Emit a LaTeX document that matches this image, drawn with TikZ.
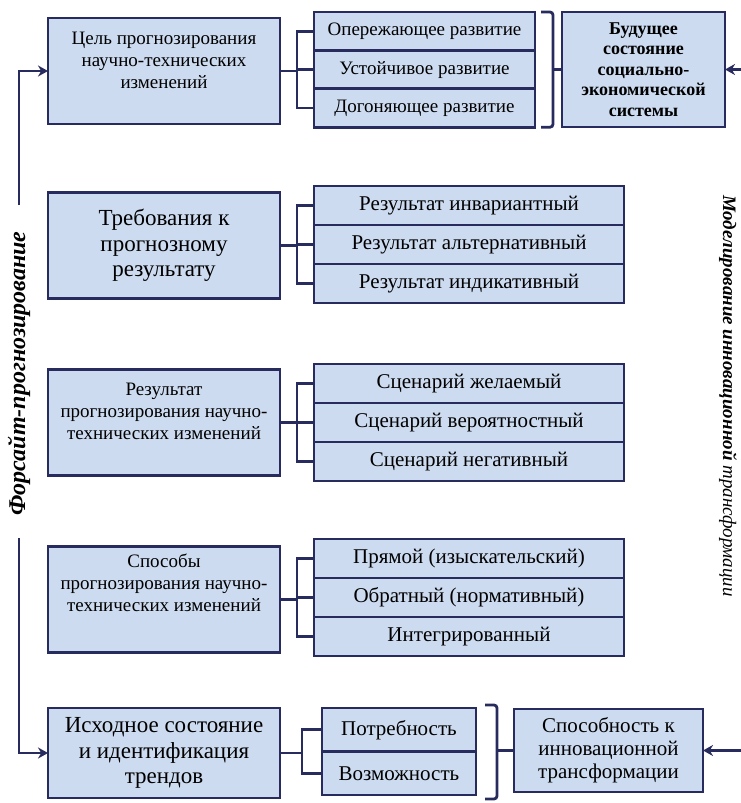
\documentclass[tikz,border=0pt]{standalone}
\usepackage{fontspec}
\setmainfont{Liberation Serif}
\usetikzlibrary{arrows.meta,positioning,calc}
\definecolor{frame}{RGB}{40,43,94}
\definecolor{boxfill}{RGB}{204,219,240}

\begin{document}
\begin{tikzpicture}[x=0.5pt, y=-0.5pt,
  mainbox/.style={draw=frame, line width=1.4pt, fill=boxfill, outer sep=0pt, minimum width=116pt, minimum height=53pt, align=center, font=\fontsize{9.5}{11}\selectfont},
  bigtext/.style={font=\fontsize{11.5}{12.75}\selectfont},
  subbox/.style={draw=frame, line width=1.4pt, fill=boxfill, outer sep=0pt, minimum width=155pt, minimum height=19.5pt, inner sep=1pt, font=\fontsize{10.5}{12}\selectfont},
  goalbox/.style={subbox, minimum width=110.5pt, minimum height=19.2pt, font=\fontsize{9.5}{11}\selectfont},
  needbox/.style={subbox, minimum width=77pt, minimum height=21.75pt},
  conn/.style={draw=frame, line width=1.4pt},
  arr/.style={conn, -{Stealth[length=5pt, width=5.5pt]}},
  sidetext/.style={font=\fontsize{12}{14}\selectfont\bfseries\itshape}
]
\useasboundingbox (0,0) rectangle (740,803);

% goal of forecasting
\node[mainbox] (goal) at (164,71) {Цель прогнозирования\\научно-технических\\изменений\\};
\node[goalbox] (lead) at (424.5,31.2) {Опережающее развитие};
\node[goalbox, below=0pt of lead] (steady) {Устойчивое развитие};
\node[goalbox, below=0pt of steady] (catch) {Догоняющее развитие};
\node[mainbox, minimum width=81.5pt, minimum height=57.5pt, font=\fontsize{9}{10.3}\selectfont\bfseries] (future) at (643.5,69.5) {Будущее\\состояние\\социально-\\экономической\\системы};

\draw[conn] (goal.east) -- ++(8.5pt,0);
\draw[conn] (lead.west) -- ++(-8.5pt,0) |- (catch.west);
\draw[conn] (steady.west) -- ++(-8.5pt,0);
\draw[conn, rounded corners=1.5pt] ([xshift=3pt]lead.north east) -- ++(6pt,0) |- ([xshift=3pt]catch.south east);
\draw[conn] (future.west) -- ++(-4.5pt,0);

% requirements
\node[mainbox, bigtext] (req) at (164,245.5) {Требования к\\прогнозному\\результату};
\node[subbox] (inv) at (469,205.5) {Результат инвариантный};
\node[subbox, below=0pt of inv] (alt) {Результат альтернативный};
\node[subbox, below=0pt of alt] (ind) {Результат индикативный};

\draw[conn] (req.east) -- ++(8.5pt,0);
\draw[conn] (inv.west) -- ++(-8.5pt,0) |- (ind.west);
\draw[conn] (alt.west) -- ++(-8.5pt,0);

% result of forecasting
\node[mainbox] (res) at (164,422.5) {Результат\\прогнозирования научно-\\технических изменений\\};
\node[subbox] (want) at (469,383.5) {Сценарий желаемый};
\node[subbox, below=0pt of want] (prob) {Сценарий вероятностный};
\node[subbox, below=0pt of prob] (neg) {Сценарий негативный};

\draw[conn] (res.east) -- ++(8.5pt,0);
\draw[conn] (want.west) -- ++(-8.5pt,0) |- (neg.west);
\draw[conn] (prob.west) -- ++(-8.5pt,0);

% methods
\node[mainbox] (way) at (164,599.5) {Способы\\прогнозирования научно-\\технических изменений\\[6pt]};
\node[subbox] (direct) at (469,558.5) {Прямой (изыскательский)};
\node[subbox, below=0pt of direct] (back) {Обратный (нормативный)};
\node[subbox, below=0pt of back] (integ) {Интегрированный};

\draw[conn] (way.east) -- ++(8.5pt,0);
\draw[conn] (direct.west) -- ++(-8.5pt,0) |- (integ.west);
\draw[conn] (back.west) -- ++(-8.5pt,0);

% initial state
\node[mainbox, bigtext, minimum height=45pt] (init) at (164,753) {Исходное состояние\\и идентификация\\трендов};
\node[needbox] (need) at (399,729.75) {Потребность};
\node[needbox, below=0pt of need] (poss) {Возможность};
\node[mainbox, minimum width=94.5pt, minimum height=41.5pt, font=\fontsize{10.5}{11.5}\selectfont] (ability) at (608.5,750.5) {Способность к\\инновационной\\трансформации};

\draw[conn] (init.east) -- ++(11pt,0);
\draw[conn] (need.west) -- ++(-10pt,0) |- (poss.west);
\draw[conn, rounded corners=1.5pt] ([shift={(4.5pt,1.5pt)}]need.north east) -- ++(6pt,0) |- ([shift={(4.5pt,-2pt)}]poss.south east);
\draw[conn] (ability.west) -- ++(-8.5pt,0);

% side arrows
\coordinate (ltop) at (19,205);
\coordinate (lbot) at (19,538);
\draw[arr] (ltop) |- (goal.west);
\draw[arr] (lbot) |- (init.west);
\draw[arr] ([xshift=8pt]future.east) -- (future.east);
\draw[arr] ([xshift=19pt]ability.east) -- (ability.east);

\node[sidetext, rotate=90] (foresight) at (19,373.5) {Форсайт-прогнозирование};
\node[rotate=-90, font=\fontsize{9.5}{11}\selectfont\itshape] (model) at (728,396) {\textbf{Моделирование инновационной} трансформации};
\end{tikzpicture}
\end{document}
